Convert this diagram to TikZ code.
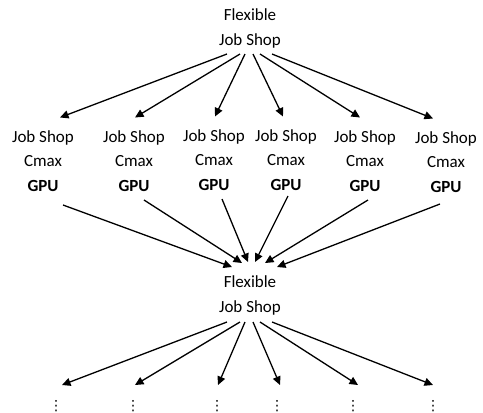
\documentclass[tikz,border=0pt]{standalone}
\usepackage{fontspec}
\setmainfont{Carlito}
\newfontfamily\symfont{DejaVu Sans}
\usetikzlibrary{arrows.meta}
\begin{document}
\begin{tikzpicture}
	[x=1pt, y=-1pt,
	 txt/.style={font=\fontsize{17}{20}\selectfont, inner sep=0pt, anchor=base},
	 arr/.style={-{Triangle[length=8.5pt, width=8pt]}, line width=1.3pt}]
	\useasboundingbox (0,0) rectangle (483,413);
	% nodes %
	\node[txt] (flexa) at (250,20) {Flexible};
	\node[txt] (shopa) at (250,45) {Job Shop};
	\foreach \i/\x/\y in {1/43/191, 2/134/191, 3/214/190, 4/286/190, 5/365/191, 6/446/192} {
		\node[txt] (js\i) at (\x,\y-49) {Job Shop};
		\node[txt] (cm\i) at (\x,\y-25) {Cmax};
		\node[txt] (gpu\i) at (\x,\y) {\textbf{GPU}};
	}
	\node[txt] (flexb) at (250,287) {Flexible};
	\node[txt] (shopb) at (250,312) {Job Shop};
	\foreach \i/\x in {1/56, 2/133, 3/217, 4/277, 5/353, 6/433}
		\node[txt, font=\fontsize{14}{16}\symfont] (dots\i) at (\x,410) {⋮};

	% edges %
	\foreach \i/\a/\b in {1/-23/17, 2/-10/1, 3/-5/1, 4/3/-3, 5/10/-5, 6/22/-13}
		\draw[arr] ([xshift=\a pt, yshift=-9pt]shopa.base) -- ([xshift=\b pt, yshift=24.5pt]js\i.base);
	\foreach \i/\a/\c/\b/\d in {1/20/-14/-18/20, 2/10/-9/-8/24, 3/8/-9/-2/25, 4/2/-6/5/25, 5/3/-9/15/24, 6/-6/-12/27/20}
		\draw[arr] ([xshift=\a pt, yshift=\c pt]gpu\i.base) -- ([xshift=\b pt, yshift=\d pt]flexb.base);
	\foreach \i/\a/\b in {1/-23/6, 2/-10/2, 3/-5/1, 4/3/3, 5/10/5, 6/22/0}
		\draw[arr] ([xshift=\a pt, yshift=-10pt]shopb.base) -- ([xshift=\b pt, yshift=25pt]dots\i.base);
\end{tikzpicture}
\end{document}
